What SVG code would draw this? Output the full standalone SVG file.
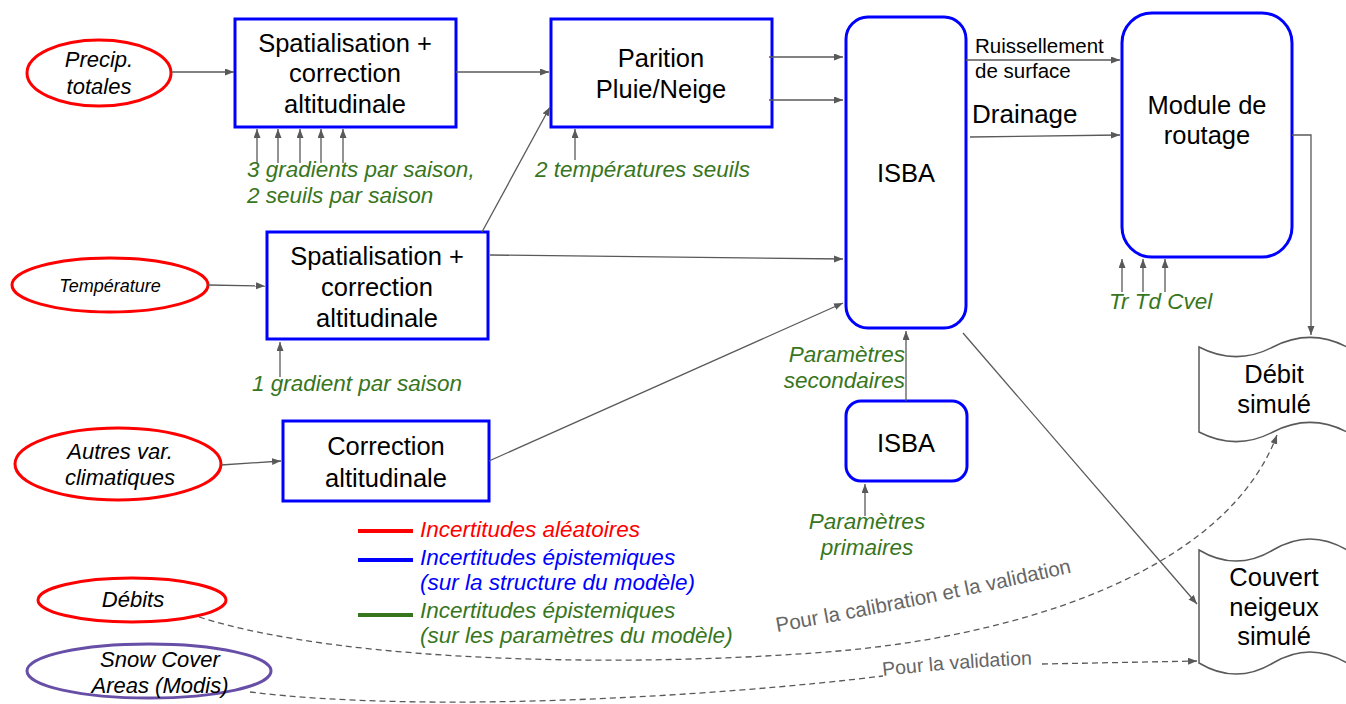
<svg xmlns="http://www.w3.org/2000/svg" width="1346" height="704" viewBox="0 0 1346 704">
<defs>
<marker id="ah" markerUnits="userSpaceOnUse" markerWidth="10" markerHeight="8" refX="9" refY="3.5" orient="auto">
<path d="M0,0 L9,3.5 L0,7 z" fill="#595959"/>
</marker>
<style>
.box{fill:#fff;stroke:#0000ff;stroke-width:3}
.src{fill:#fff;stroke:#ff0000;stroke-width:3}
.obs{fill:#fff;stroke:#674ea7;stroke-width:3}
.doc{fill:#fff;stroke:#595959;stroke-width:1.5}
.c{stroke:#595959;stroke-width:1.3;fill:none}
.a{marker-end:url(#ah)}
.d{stroke-dasharray:6 4}
text{font-family:"Liberation Sans",Arial,sans-serif;fill:#000}
.bt{font-size:25.5px;text-anchor:middle}
.it{font-style:italic;font-size:22px;text-anchor:middle}
.g{fill:#38761d;font-style:italic;font-size:22.5px}
.lab{fill:#666666}
</style>
</defs>
<rect width="1346" height="704" fill="#fff"/>

<g id="precip">
<ellipse class="src" cx="99" cy="73" rx="72" ry="33"/>
<text class="it" x="99" y="67">Precip.</text>
<text class="it" x="99" y="94">totales</text>
</g>
<g id="temperature">
<ellipse class="src" cx="110" cy="285" rx="98" ry="27"/>
<text class="it" x="110" y="292" style="font-size:18px">Température</text>
</g>
<g id="autres">
<ellipse class="src" cx="118" cy="464" rx="103" ry="36"/>
<text class="it" x="120" y="459">Autres var.</text>
<text class="it" x="120" y="485">climatiques</text>
</g>
<g id="debits">
<ellipse class="src" cx="132" cy="600" rx="94" ry="22"/>
<text class="it" x="133" y="607">Débits</text>
</g>
<g id="snow">
<ellipse class="obs" cx="149" cy="671" rx="122" ry="27"/>
<text class="it" x="160" y="667">Snow Cover</text>
<text class="it" x="160" y="693">Areas (Modis)</text>
</g>

<g id="spat1">
<rect class="box" x="235" y="19" width="221" height="108"/>
<text class="bt" x="345" y="52">Spatialisation +</text>
<text class="bt" x="345" y="82">correction</text>
<text class="bt" x="345" y="113">altitudinale</text>
</g>
<g id="partition">
<rect class="box" x="551" y="19" width="221" height="108"/>
<text class="bt" x="661" y="67">Parition</text>
<text class="bt" x="661" y="98">Pluie/Neige</text>
</g>
<g id="spat2">
<rect class="box" x="267" y="232" width="221" height="107"/>
<text class="bt" x="377" y="265">Spatialisation +</text>
<text class="bt" x="377" y="296">correction</text>
<text class="bt" x="377" y="327">altitudinale</text>
</g>
<g id="correction">
<rect class="box" x="283" y="421" width="206" height="80"/>
<text class="bt" x="386" y="455">Correction</text>
<text class="bt" x="386" y="487">altitudinale</text>
</g>
<g id="isba">
<rect class="box" x="846" y="17" width="120" height="311" rx="22"/>
<text class="bt" x="906" y="182">ISBA</text>
</g>
<g id="isba2">
<rect class="box" x="846" y="401" width="121" height="80" rx="15"/>
<text class="bt" x="906" y="452">ISBA</text>
</g>
<g id="routage">
<rect class="box" x="1122" y="13" width="170" height="244" rx="30"/>
<text class="bt" x="1207" y="114">Module de</text>
<text class="bt" x="1207" y="144">routage</text>
</g>
<g id="debitsim">
<path class="doc" d="M1199,347 C1224,360 1248,360 1273,347 C1298,334 1322,334 1347,347 L1347,432 C1322,419 1298,419 1273,432 C1248,445 1224,445 1199,432 Z"/>
<text class="bt" x="1274" y="383">Débit</text>
<text class="bt" x="1274" y="413">simulé</text>
</g>
<g id="couvert">
<path class="doc" d="M1199,550 C1224,565 1248,565 1273,550 C1298,535 1322,535 1347,550 L1347,663 C1322,648 1298,648 1273,663 C1248,678 1224,678 1199,663 Z"/>
<text class="bt" x="1274" y="586">Couvert</text>
<text class="bt" x="1274" y="616">neigeux</text>
<text class="bt" x="1274" y="645">simulé</text>
</g>

<g id="connectors">
<line class="c a" x1="171" y1="72" x2="234" y2="72"/>
<line class="c a" x1="456" y1="72" x2="549" y2="72"/>
<line class="c a" x1="769" y1="57" x2="843" y2="57"/>
<line class="c a" x1="769" y1="100" x2="843" y2="100"/>
<line class="c a" x1="966" y1="60" x2="1120" y2="60"/>
<line class="c a" x1="970" y1="137" x2="1120" y2="135"/>
<polyline class="c a" points="1292,135 1311,135 1311,335"/>
<line class="c a" x1="257" y1="163" x2="257" y2="129"/>
<line class="c a" x1="278" y1="163" x2="278" y2="129"/>
<line class="c a" x1="300" y1="163" x2="300" y2="129"/>
<line class="c a" x1="321" y1="163" x2="321" y2="129"/>
<line class="c a" x1="343" y1="163" x2="343" y2="129"/>
<line class="c a" x1="575" y1="160" x2="575" y2="129"/>
<line class="c a" x1="1122" y1="292" x2="1122" y2="259"/>
<line class="c a" x1="1143" y1="292" x2="1143" y2="259"/>
<line class="c a" x1="1165" y1="292" x2="1165" y2="259"/>
<line class="c a" x1="482" y1="232" x2="550" y2="107"/>
<line class="c a" x1="208" y1="285" x2="265" y2="286"/>
<line class="c a" x1="490" y1="255" x2="843" y2="259"/>
<line class="c a" x1="280" y1="377" x2="280" y2="342"/>
<line class="c a" x1="221" y1="465" x2="281" y2="461"/>
<line class="c a" x1="489" y1="461" x2="843" y2="303"/>
<line class="c a" x1="906" y1="401" x2="906" y2="331"/>
<line class="c a" x1="865" y1="516" x2="865" y2="484"/>
<line class="c a" x1="963" y1="333" x2="1197" y2="604"/>
<path class="c d a" d="M199,617 C350,665 650,668 850,650 C1050,630 1230,560 1277,435"/>
<path class="c d" d="M250,692 C430,714 720,696 883,676"/>
<path class="c d a" d="M1042,664 L1197,661"/>
<path id="p1" d="M777,632 Q925,606 1078,571" fill="none"/>
<path id="p2" d="M883,676 Q962,667 1044,664" fill="none"/>
<text class="lab" style="font-size:20.5px"><textPath href="#p1">Pour la calibration et la validation</textPath></text>
<text class="lab" style="font-size:19.5px"><textPath href="#p2">Pour la validation</textPath></text>
</g>

<g id="labels">
<text class="g" x="247" y="177">3 gradients par saison,</text>
<text class="g" x="247" y="203">2 seuils par saison</text>
<text class="g" x="535" y="177">2 températures seuils</text>
<text class="g" x="252" y="391">1 gradient par saison</text>
<text class="g" x="1109" y="309">Tr Td Cvel</text>
<text class="g" x="905" y="362" text-anchor="end">Paramètres</text>
<text class="g" x="905" y="388" text-anchor="end">secondaires</text>
<text class="g" x="867" y="529" text-anchor="middle">Paramètres</text>
<text class="g" x="867" y="555" text-anchor="middle">primaires</text>
<text x="975" y="53" style="font-size:20.5px">Ruissellement</text>
<text x="975" y="78" style="font-size:20.5px">de surface</text>
<text x="972" y="123" style="font-size:26px">Drainage</text>
</g>

<g id="legend">
<line x1="358" y1="531" x2="413" y2="531" stroke="#ff0000" stroke-width="4"/>
<line x1="358" y1="560" x2="413" y2="560" stroke="#0000ff" stroke-width="4"/>
<line x1="358" y1="615" x2="413" y2="615" stroke="#38761d" stroke-width="4"/>
<text x="420" y="537" style="font-size:22.5px;font-style:italic;fill:#ff0000">Incertitudes aléatoires</text>
<text x="420" y="565" style="font-size:22.5px;font-style:italic;fill:#0000ff">Incertitudes épistemiques</text>
<text x="420" y="590" style="font-size:22.5px;font-style:italic;fill:#0000ff">(sur la structure du modèle)</text>
<text x="420" y="618" style="font-size:22.5px;font-style:italic;fill:#38761d">Incertitudes épistemiques</text>
<text x="420" y="643" style="font-size:22.5px;font-style:italic;fill:#38761d">(sur les paramètres du modèle)</text>
</g>
</svg>
